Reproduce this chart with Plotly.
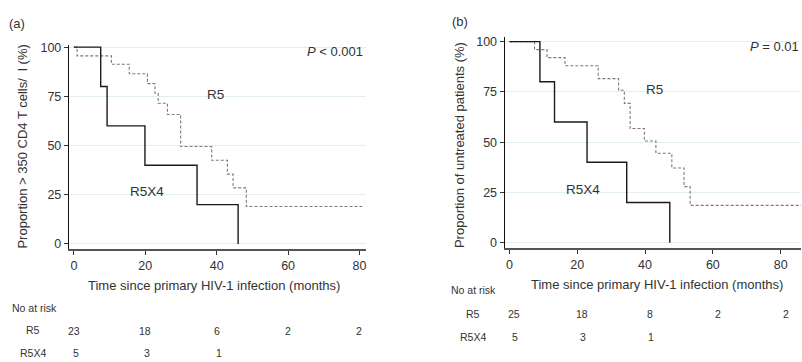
import plotly.graph_objects as go

# ---------------- data ----------------
# Panel (a): proportion > 350 CD4 T cells
a_r5_time = [0, 0.9, 10.5, 15.5, 20.6, 22.7, 23.6, 26.2, 29.9, 38.6, 43.0, 44.6, 48.3, 80.8]
a_r5_surv = [100, 95.6, 91.3, 86.5, 81.5, 76.5, 71.5, 65.8, 49.5, 42.5, 35.5, 28.5, 19, 19]
a_r5x4_time = [0, 7.5, 9.3, 19.9, 34.5, 46.0]
a_r5x4_surv = [100, 80, 60, 40, 20, 0]

# Panel (b): proportion of untreated patients
b_r5_time = [0, 7.4, 11.1, 16.4, 26.2, 32.2, 33.9, 35.6, 39.8, 43.2, 47.9, 51.5, 53.3, 87]
b_r5_surv = [100, 96, 92, 88, 81.6, 75.8, 69.3, 56.8, 50.6, 44.5, 37.2, 27.9, 18.6, 18.6]
b_r5x4_time = [0, 9.0, 13.3, 22.9, 34.6, 47.3]
b_r5x4_surv = [100, 80, 60, 40, 20, 0]

x_ticks = [0, 20, 40, 60, 80]
y_ticks = [0, 25, 50, 75, 100]

risk_times = [0, 20, 40, 60, 80]
a_risk_r5 = ["23", "18", "6", "2", "2"]
a_risk_r5x4 = ["5", "3", "1"]
b_risk_r5 = ["25", "18", "8", "2", "2"]
b_risk_r5x4 = ["5", "3", "1"]

FONT = "Liberation Sans, Arial, sans-serif"
TXT = "#333333"
W, H = 802, 362


def py(px):
    return 1 - px / H


def pxx(px):
    return px / W


fig = go.Figure()

dash_style = dict(color="#7a7a7a", width=1.1, dash="3px,2px", shape="hv")
solid_style = dict(color="#1a1a1a", width=1.4, shape="hv")

fig.add_trace(go.Scatter(x=a_r5_time, y=a_r5_surv, mode="lines", line=dash_style,
                         xaxis="x", yaxis="y", showlegend=False, hoverinfo="skip"))
fig.add_trace(go.Scatter(x=a_r5x4_time, y=a_r5x4_surv, mode="lines", line=solid_style,
                         xaxis="x", yaxis="y", showlegend=False, hoverinfo="skip"))
fig.add_trace(go.Scatter(x=b_r5_time, y=b_r5_surv, mode="lines", line=dash_style,
                         xaxis="x2", yaxis="y2", showlegend=False, hoverinfo="skip"))
fig.add_trace(go.Scatter(x=b_r5x4_time, y=b_r5x4_surv, mode="lines", line=solid_style,
                         xaxis="x2", yaxis="y2", showlegend=False, hoverinfo="skip"))

xaxis_common = dict(tickvals=x_ticks, ticks="outside", ticklen=4, tickcolor="#333",
                    showline=True, linecolor="#555555", linewidth=2, showgrid=False,
                    zeroline=False, tickfont=dict(size=12.5, color=TXT, family=FONT))
yaxis_common = dict(tickvals=y_ticks, ticks="outside", ticklen=4, tickcolor="#333",
                    showline=True, linecolor="#111111", linewidth=1.2, showgrid=True,
                    gridcolor="#e2eef0", gridwidth=1, zeroline=False,
                    tickfont=dict(size=12.5, color=TXT, family=FONT))

fig.update_layout(
    width=W, height=H,
    margin=dict(l=0, r=0, t=0, b=0),
    paper_bgcolor="white", plot_bgcolor="white",
    font=dict(family=FONT, color=TXT),
    xaxis=dict(domain=[pxx(69), pxx(366)], range=[-1.4, 81.7], anchor="y", **xaxis_common),
    yaxis=dict(domain=[py(249), py(41.7)], range=[-2.5, 101.1], anchor="x", **yaxis_common),
    xaxis2=dict(domain=[pxx(505.3), 1.0], range=[-1.4, 86.0], anchor="y2", **xaxis_common),
    yaxis2=dict(domain=[py(247.7), py(33.3)], range=[-2.4, 102.4], anchor="x2", **yaxis_common),
)

ann = []


def add_text(text, x, y, size=13, xref="paper", yref="paper", xanchor="center",
             yanchor="middle", angle=0, xshift=0):
    ann.append(dict(text=text, x=x, y=y, xref=xref, yref=yref, xanchor=xanchor,
                    yanchor=yanchor, showarrow=False, textangle=angle, xshift=xshift,
                    font=dict(size=size, color=TXT, family=FONT)))


# panel labels
add_text("(a)", pxx(17), py(20), size=13)
add_text("(b)", pxx(460.5), py(17.3), size=13)

# axis titles
add_text("Proportion > 350 CD4 T cells/  l (%)", pxx(23), py(145), size=13, angle=-90)
add_text("Proportion of untreated patients (%)", pxx(460), py(143), size=13, angle=-90)
add_text("Time since primary HIV-1 infection (months)", pxx(214), py(286), size=13)
add_text("Time since primary HIV-1 infection (months)", pxx(658), py(285), size=13)

# curve labels
add_text("R5", pxx(216), py(92), size=13.5)
add_text("R5X4", pxx(147), py(190.7), size=13.5)
add_text("R5", pxx(655), py(86.7), size=13.5)
add_text("R5X4", pxx(584), py(189), size=13.5)

# p-values
add_text("<i>P</i> < 0.001", pxx(365), py(48.3), size=13, xanchor="right")
add_text("<i>P</i> = 0.01", pxx(802), py(43.3), size=13, xanchor="right")

# number at risk table (a)
add_text("No at risk", pxx(10), py(309), size=10.5, xanchor="left")
add_text("R5", pxx(33), py(332), size=10.5)
add_text("R5X4", pxx(33), py(355), size=10.5)
for t, v in zip(risk_times, a_risk_r5):
    add_text(v, t, py(332.5), size=10.5, xref="x")
for t, v in zip(risk_times, a_risk_r5x4):
    add_text(v, t, py(355), size=10.5, xref="x", xshift=2)

# number at risk table (b)
add_text("No at risk", pxx(474), py(290.7), size=10.5)
add_text("R5", pxx(474), py(315), size=10.5)
add_text("R5X4", pxx(474), py(339), size=10.5)
for t, v in zip(risk_times, b_risk_r5):
    add_text(v, t, py(315), size=10.5, xref="x2", xshift=5)
for t, v in zip(risk_times, b_risk_r5x4):
    add_text(v, t, py(339), size=10.5, xref="x2", xshift=6)

fig.update_layout(annotations=ann)

fig.write_html(
    "out.html",
    config={"displayModeBar": False},
    post_script="document.body.style.margin='0';document.body.style.overflow='hidden';",
)
